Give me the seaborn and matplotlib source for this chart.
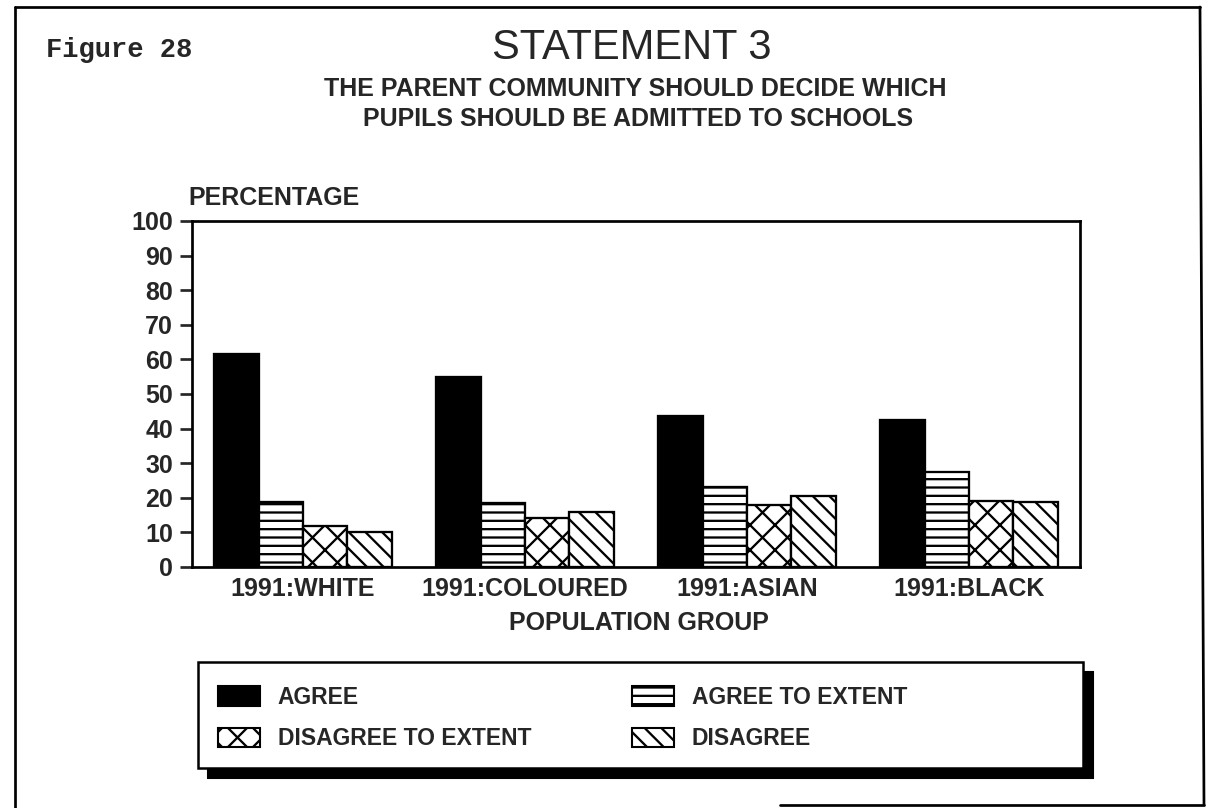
import numpy as np
import pandas as pd
import matplotlib.pyplot as plt
from matplotlib.patches import Patch, Rectangle
from matplotlib.lines import Line2D
import seaborn as sns

# data
groups = ["1991:WHITE", "1991:COLOURED", "1991:ASIAN", "1991:BLACK"]
responses = ["AGREE", "AGREE TO EXTENT", "DISAGREE TO EXTENT", "DISAGREE"]
agree = [61.5, 55.0, 43.5, 42.5]
agree_to_extent = [18.8, 18.5, 23.0, 27.5]
disagree_to_extent = [11.8, 14.3, 17.8, 19.2]
disagree = [10.2, 16.0, 20.5, 18.7]
y_ticks = list(range(0, 101, 10))

colors = {"AGREE": "black", "AGREE TO EXTENT": "white",
          "DISAGREE TO EXTENT": "white", "DISAGREE": "white"}
hatches = {"AGREE": "", "AGREE TO EXTENT": "---",
           "DISAGREE TO EXTENT": "xx", "DISAGREE": "\\\\\\"}

df = pd.DataFrame({
    "group": np.repeat(groups, len(responses)),
    "response": responses * len(groups),
    "value": np.ravel(np.column_stack([agree, agree_to_extent,
                                       disagree_to_extent, disagree])),
})

sns.set_theme(style="white")
plt.rcParams["font.family"] = ["Liberation Sans", "DejaVu Sans"]
plt.rcParams["hatch.linewidth"] = 1.1
plt.rcParams["hatch.color"] = "black"

W, H, DPI = 1209, 808, 150
fig = plt.figure(figsize=(W / DPI, H / DPI), dpi=DPI)


def fx(px):
    return px / W


def fy(py):
    return 1 - py / H


# plot box in pixels: x 192-1080, y 221-567
ax = fig.add_axes([fx(192), fy(567), (1080 - 192) / W, (567 - 221) / H])

sns.barplot(data=df, x="group", y="value", hue="response", order=groups,
            hue_order=responses, palette=colors, edgecolor="black",
            linewidth=1.1, width=0.8, ax=ax, legend=False)

for cont, resp in zip(ax.containers, responses):
    for bar in cont:
        bar.set_hatch(hatches[resp])

ax.set_xlim(-0.5, 3.5)
ax.set_ylim(0, 100)
ax.set_yticks(y_ticks)
ax.set_yticklabels([str(t) for t in y_ticks], fontsize=12, fontweight="bold")
ax.set_xticklabels(groups, fontsize=12, fontweight="bold")
ax.set_xlabel("")
ax.set_ylabel("")
for s in ax.spines.values():
    s.set_linewidth(1.3)
    s.set_color("black")
ax.tick_params(axis="y", direction="out", length=6, width=1.3, pad=3, left=True)
ax.tick_params(axis="x", length=0, pad=5)

# titles
fig.text(fx(46), fy(50), "Figure 28", family="Liberation Mono",
         fontweight="bold", fontsize=13, va="center", ha="left")
fig.text(fx(632), fy(48), "STATEMENT 3", fontsize=20, va="center",
         ha="center")
fig.text(fx(635), fy(89), "THE PARENT COMMUNITY SHOULD DECIDE WHICH",
         fontsize=12, fontweight="bold", va="center", ha="center")
fig.text(fx(638), fy(119), "PUPILS SHOULD BE ADMITTED TO SCHOOLS",
         fontsize=12, fontweight="bold", va="center", ha="center")
fig.text(fx(188), fy(198), "PERCENTAGE", fontsize=12, fontweight="bold",
         va="center", ha="left")
fig.text(fx(639), fy(623), "POPULATION GROUP", fontsize=12,
         fontweight="bold", va="center", ha="center")

# legend with a hard drop shadow
lx0, ly0, lx1, ly1 = 198, 662, 1083, 768
fig.add_artist(Rectangle((fx(lx0 + 10), fy(ly1 + 10)), (lx1 - lx0) / W,
                         (ly1 - ly0) / H, transform=fig.transFigure,
                         facecolor="black", edgecolor="black", zorder=1))
fig.add_artist(Rectangle((fx(lx0), fy(ly1)), (lx1 - lx0) / W,
                         (ly1 - ly0) / H, transform=fig.transFigure,
                         facecolor="white", edgecolor="black", linewidth=1.2,
                         zorder=2))
handles = [Patch(facecolor=colors[r], edgecolor="black", hatch=hatches[r],
                 linewidth=1.0, label=r)
           for r in ["AGREE", "DISAGREE TO EXTENT", "AGREE TO EXTENT", "DISAGREE"]]
leg = fig.legend(handles=handles, ncol=2, loc="upper left",
                 bbox_to_anchor=(fx(218), fy(686)), borderpad=0,
                 borderaxespad=0, frameon=False,
                 prop={"weight": "bold", "size": 11},
                 handlelength=1.85, handleheight=0.95, handletextpad=0.75,
                 columnspacing=4.4, labelspacing=0.8)
leg.set_zorder(3)

# page border of the scan
border = dict(color="black", linewidth=1.3, transform=fig.transFigure)
fig.add_artist(Line2D([fx(15), fx(1200)], [fy(7), fy(7)], **border))
fig.add_artist(Line2D([fx(15), fx(15)], [fy(7), 0], **border))
fig.add_artist(Line2D([fx(1200), fx(1204)], [fy(7), fy(805)], **border))
fig.add_artist(Line2D([fx(780), fx(1204)], [fy(805), fy(805)], **border))

fig.savefig("out.png", dpi=DPI, facecolor="white")
